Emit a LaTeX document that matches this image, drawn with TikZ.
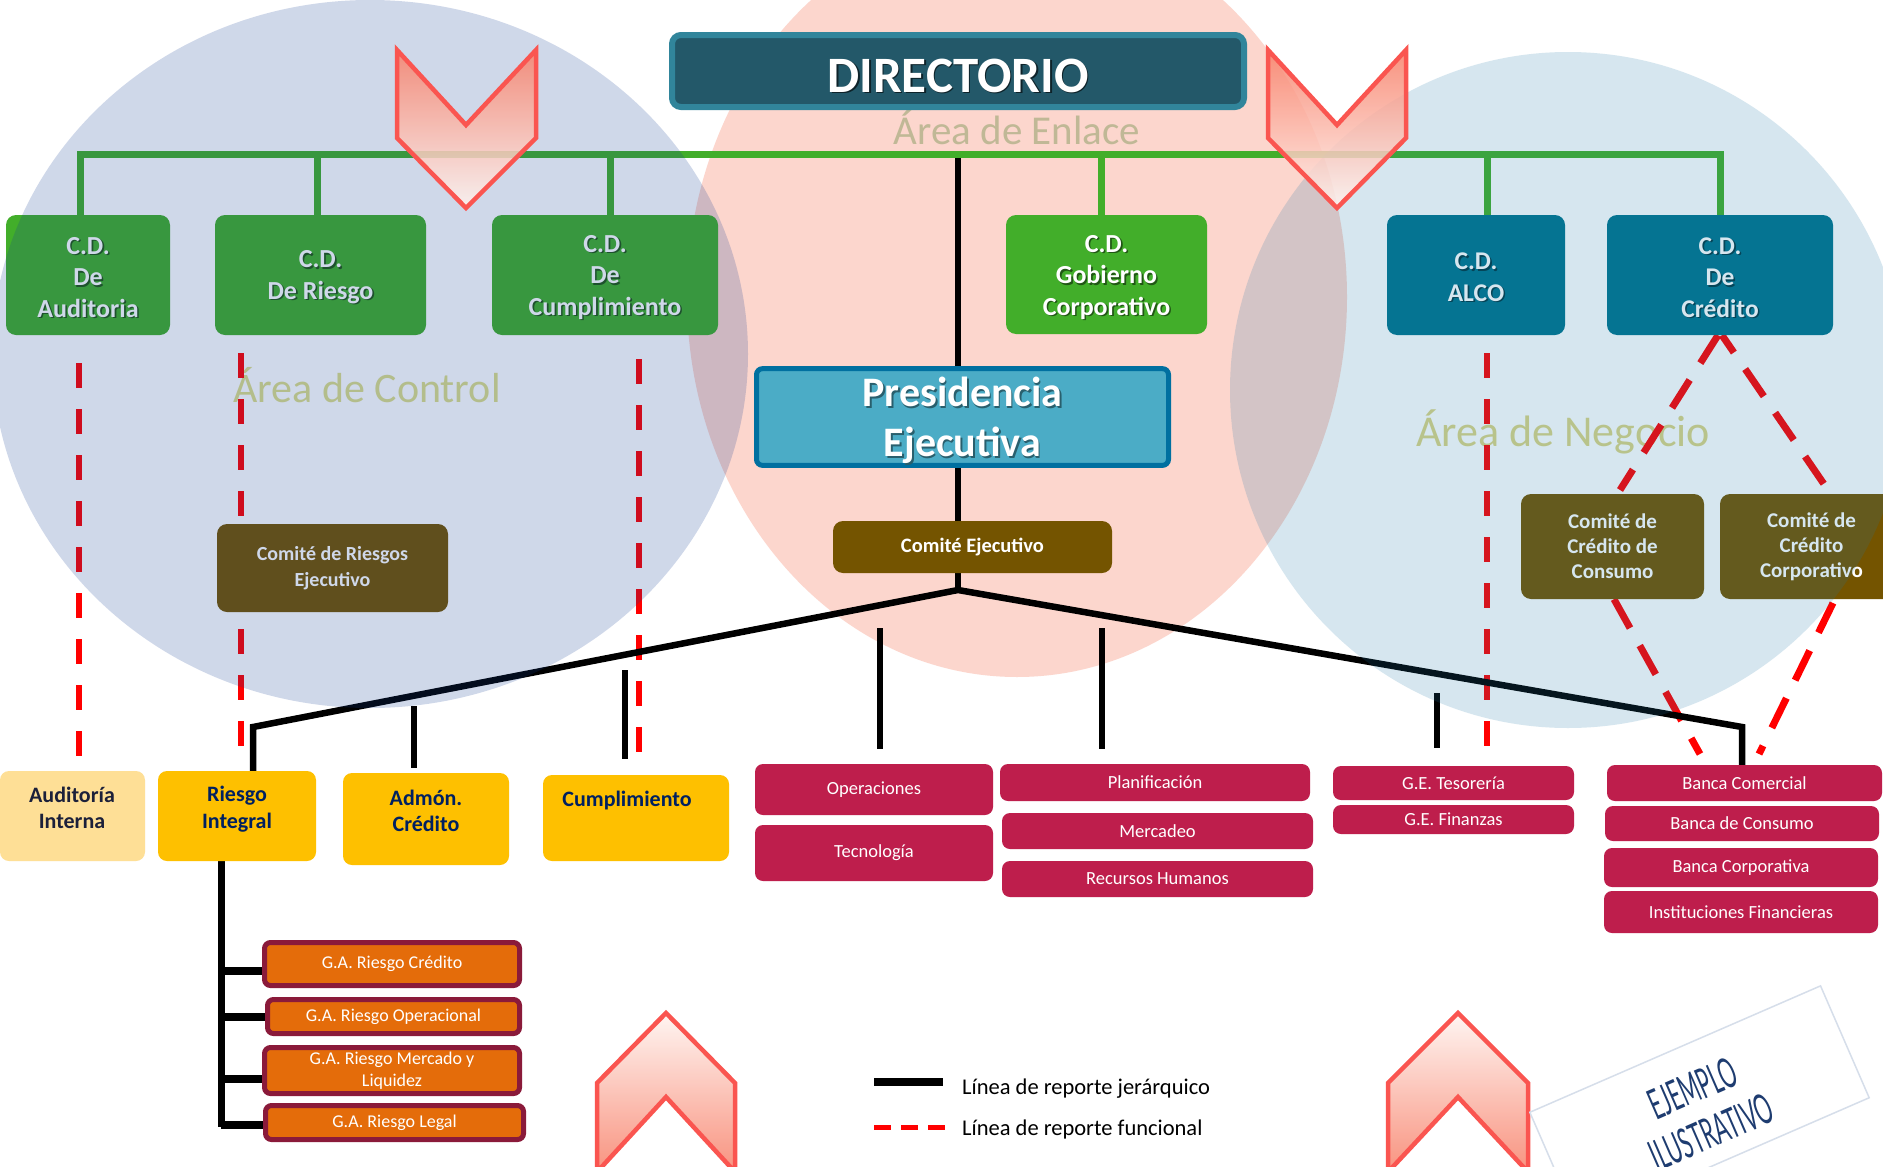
\documentclass[tikz,border=0pt]{standalone}
\usepackage{fontspec}
\usepackage{graphicx}
\setmainfont{Carlito}
\newfontfamily\stampfont{Lato}
\usetikzlibrary{calc}
\pgfdeclarelayer{back}
\pgfdeclarelayer{lines}
\pgfdeclarelayer{tint}
\pgfdeclarelayer{front}
\pgfsetlayers{back,lines,main,tint,front}

\definecolor{pinkc}{RGB}{252,214,205}
\definecolor{leftc}{RGB}{18,60,147}
\definecolor{rightc}{RGB}{29,119,167}
\definecolor{cdgreen}{RGB}{66,174,42}
\definecolor{cdteal}{RGB}{0,116,142}
\definecolor{dirfill}{RGB}{35,88,105}
\definecolor{dirline}{RGB}{49,133,155}
\definecolor{presfill}{RGB}{75,172,198}
\definecolor{presline}{RGB}{0,112,160}
\definecolor{brownc}{RGB}{116,84,0}
\definecolor{goldc}{RGB}{254,192,0}
\definecolor{paleg}{RGB}{254,223,150}
\definecolor{navyc}{RGB}{0,32,96}
\definecolor{inkc}{RGB}{28,32,58}
\definecolor{magc}{RGB}{190,30,76}
\definecolor{orangec}{RGB}{228,108,10}
\definecolor{maroonc}{RGB}{138,26,58}
\definecolor{chevline}{RGB}{250,85,80}
\definecolor{chevtop}{RGB}{248,128,105}
\definecolor{chevlow}{RGB}{255,244,240}
\definecolor{stampline}{RGB}{214,222,234}
\definecolor{stampc}{RGB}{30,60,112}
\definecolor{enlacec}{RGB}{192,184,150}
\definecolor{controlc}{RGB}{220,222,138}
\definecolor{negocioc}{RGB}{219,212,134}
\colorlet{shadowc}{black}

% bold white text with a small dark drop shadow
\newcommand\shd[1]{\leavevmode\rlap{\hspace{1.6pt}\raisebox{-1.6pt}{\textcolor{shadowc}{#1}}}#1}
% invisible strut that lowers a text block inside its box
\newcommand\lift[1]{\rule{0pt}{#1}}

\tikzset{
  every node/.style={inner sep=0pt},
  cdbox/.style={rounded corners=10pt, fill=cdgreen, text=white, align=center,
    font=\fontsize{26}{31.5}\selectfont\bfseries\colorlet{shadowc}{black!50!cdgreen}},
  tealbox/.style={cdbox, fill=cdteal,
    font=\fontsize{25.5}{31.5}\selectfont\bfseries\colorlet{shadowc}{black!50!cdteal}},
  dirbox/.style={rounded corners=9pt, fill=dirfill, draw=dirline, line width=6pt, text=white,
    font=\fontsize{51}{55}\selectfont\bfseries\colorlet{shadowc}{black!60!dirfill}},
  presbox/.style={rounded corners=6pt, fill=presfill, draw=presline, line width=5pt, text=white, align=center,
    font=\fontsize{42}{50}\selectfont\bfseries\colorlet{shadowc}{black!45!presfill}},
  brownbox/.style={rounded corners=10pt, fill=brownc, text=white, align=center},
  yellowbox/.style={rounded corners=9pt, fill=goldc},
  ytext/.style={text=navyc, align=center, font=\fontsize{22}{26.5}\selectfont\bfseries},
  redbox/.style={rounded corners=8pt, fill=magc, text=white, font=\fontsize{18.5}{20}\selectfont},
  gabox/.style={rounded corners=6pt, fill=orangec, draw=maroonc, line width=5pt, text=white, align=center,
    font=\fontsize{18}{22}\selectfont},
  bus/.style={draw=cdgreen, line width=7pt},
  rep/.style={draw=black, line width=6.5pt, line join=miter},
  fun/.style={draw=red, line width=6pt, dash pattern=on 25pt off 21pt},
  fundiag/.style={draw=red, line width=7pt, dash pattern=on 33pt off 20pt},
  arealbl/.style={anchor=base, font=\fontsize{42}{42}\selectfont},
  chevshape/.style={draw=chevline, line width=4.5pt, line join=miter, fill opacity=0.85},
}

\begin{document}
\begin{tikzpicture}[x=1pt,y=-1pt]
\useasboundingbox (0,0) rectangle (1883,1167);
\clip (0,0) rectangle (1883,1167);

\begin{pgfonlayer}{back}
  \fill[white] (0,0) rectangle (1883,1167);
  \fill[pinkc] (1017,297) ellipse [x radius=330pt, y radius=380pt];
\end{pgfonlayer}

% ---------- board and its committees ----------
\node[dirbox, minimum width=572pt, minimum height=72pt] (dir) at (958,71) {\lift{44pt}\shd{DIRECTORIO}};

\node[cdbox, minimum width=164pt, minimum height=120pt] (cda) at (88,275) {\lift{23pt}\shd{C.D.}\\\shd{De}\\\shd{Auditoria}};
\node[cdbox, minimum width=211pt, minimum height=120pt] (cdr) at (320.5,275) {\lift{23pt}\shd{C.D.}\\\shd{De Riesgo}};
\node[cdbox, minimum width=226pt, minimum height=120pt] (cdc) at (605,275) {\lift{23pt}\shd{C.D.}\\\shd{De}\\\shd{Cumplimiento}};
\node[cdbox, minimum width=201pt, minimum height=119pt] (cdg) at (1106.5,274.5) {\lift{24pt}\shd{C.D.}\\\shd{Gobierno}\\\shd{Corporativo}};
\node[tealbox, minimum width=178pt, minimum height=120pt] (alco) at (1476,275) {\lift{23pt}\shd{C.D.}\\\shd{ALCO}};
\node[tealbox, minimum width=226pt, minimum height=120pt] (cred) at (1720,275) {\lift{23pt}\shd{C.D.}\\\shd{De}\\\shd{Crédito}};

% ---------- executive level ----------
\node[presbox, minimum width=412pt, minimum height=83pt] (pres) at (962.5,417) {\lift{38pt}\shd{Presidencia}\\\shd{Ejecutiva}};
\node[brownbox, minimum width=279pt, minimum height=52pt, font=\fontsize{20.5}{24}\selectfont\bfseries] (ce) at (972.5,547) {Comité Ejecutivo};
\node[brownbox, minimum width=231pt, minimum height=88pt, font=\fontsize{20}{26}\selectfont\bfseries] (cre) at (332.5,568) {Comité de Riesgos\\Ejecutivo};
\node[brownbox, minimum width=183pt, minimum height=105pt, font=\fontsize{21}{25}\selectfont\bfseries] (ccc) at (1612.5,546.5) {Comité de\\Crédito de\\Consumo};
\node[brownbox, minimum width=183pt, minimum height=105pt, font=\fontsize{21}{25}\selectfont\bfseries] (ccp) at (1811.5,546.5) {Comité de\\Crédito\\Corporativo};

% ---------- control units ----------
\node[yellowbox, fill=paleg, minimum width=145pt, minimum height=90pt] (ai) at (72.5,816) {};
\node[ytext, text=inkc] (tai) at (72,808) {Auditoría\\Interna};
\node[yellowbox, minimum width=158pt, minimum height=90pt] (ri) at (237,816) {};
\node[ytext] (tri) at (237,809) {Riesgo\\Integral};
\node[yellowbox, minimum width=166pt, minimum height=92pt] (adm) at (426,819) {};
\node[ytext] (tadm) at (426,811) {Admón.\\Crédito};
\node[yellowbox, minimum width=186pt, minimum height=86pt] (cum) at (636,818) {};
\node[ytext] (tcum) at (627,801) {Cumplimiento};

% ---------- business and support units ----------
\node[redbox, minimum width=238pt, minimum height=51pt] (op) at (874,789.5) {Operaciones};
\node[redbox, minimum width=238pt, minimum height=56pt] (tec) at (874,853) {Tecnología};
\node[redbox, minimum width=310pt, minimum height=37pt] (plan) at (1155,782.5) {Planificación};
\node[redbox, minimum width=311pt, minimum height=36pt] (merc) at (1157.5,831) {Mercadeo};
\node[redbox, minimum width=311pt, minimum height=36pt] (rh) at (1157.5,879) {Recursos Humanos};
\node[redbox, minimum width=241pt, minimum height=34pt] (tes) at (1453.5,783) {G.E. Tesorería};
\node[redbox, minimum width=241pt, minimum height=29pt] (fin) at (1453.5,819.5) {G.E. Finanzas};
\node[redbox, minimum width=275pt, minimum height=36pt] (bcom) at (1744.5,783) {Banca Comercial};
\node[redbox, minimum width=274pt, minimum height=35pt] (bcon) at (1742,823.5) {Banca de Consumo};
\node[redbox, minimum width=274pt, minimum height=39pt] (bcorp) at (1741,867.5) {Banca Corporativa};
\node[redbox, minimum width=274pt, minimum height=42pt] (inst) at (1741,912) {Instituciones Financieras};

% ---------- risk management units ----------
\node[gabox, minimum width=255pt, minimum height=43pt] (gac) at (392,964) {G.A. Riesgo Crédito};
\node[gabox, minimum width=252pt, minimum height=34pt] (gao) at (393.5,1016.5) {G.A. Riesgo Operacional};
\node[gabox, minimum width=255pt, minimum height=46pt] (gam) at (392,1070.5) {G.A. Riesgo Mercado y\\Liquidez};
\node[gabox, minimum width=258pt, minimum height=34pt] (gal) at (394.5,1122.5) {G.A. Riesgo Legal};

% ---------- area names and connectors (under the boxes) ----------
\begin{pgfonlayer}{lines}
  \node[arealbl, text=enlacec, font=\fontsize{41}{41}\selectfont] (lenl) at (1017,144) {Área de Enlace};
  \node[arealbl, text=controlc] (lctl) at (367,402) {Área de Control};
  \node[arealbl, text=negocioc, font=\fontsize{44}{44}\selectfont] (lneg) at (1563,446) {Área de Negocio};

  % functional reporting
  \coordinate (fa) at (79,363);   \draw[fun] (fa) -- ([yshift=9pt]fa |- ai.north);
  \coordinate (fr) at (241,353);  \draw[fun] (fr) -- ([yshift=18pt]fr |- ri.north);
  \coordinate (fcm) at (639,359); \draw[fun] (fcm) -- ([yshift=17pt]fcm |- cum.north);
  \coordinate (fal) at (1487,353); \draw[fun] (fal) -- ([yshift=10pt]fal |- tes.north);
  \coordinate (fc1) at (1620,490); \draw[fundiag] ([xshift=-2pt]cred.south) -- (fc1);
  \coordinate (fc2) at (1828,490); \draw[fundiag, dash phase=12pt] ([xshift=2pt]cred.south) -- (fc2);
  \coordinate (fb1) at (1700,754); \draw[fundiag] ([xshift=1.5pt]ccc.south) -- (fb1);
  \coordinate (fd)  at (1833,603); \coordinate (fb2) at (1759,754); \draw[fundiag] (fd) -- (fb2);

  % hierarchical reporting
  \coordinate (jtop) at (958,154);
  \coordinate (jn) at (958,590);
  \draw[rep] (jtop) -- (jn);
  \coordinate (lc) at (253,727);
  \coordinate (rc) at (1742,727);
  \draw[rep] (lc |- ri.north) -- (lc) -- (jn) -- (rc) -- (rc |- bcom.north);
  \coordinate (sa) at (414,706);  \draw[rep] (sa) -- ([yshift=5pt]sa |- adm.north);
  \coordinate (sc) at (625,670);  \draw[rep] (sc) -- ([yshift=16pt]sc |- cum.north);
  \coordinate (so) at (880,628);  \draw[rep] (so) -- ([yshift=15pt]so |- op.north);
  \coordinate (sp) at (1102,628); \draw[rep] (sp) -- ([yshift=15pt]sp |- plan.north);
  \coordinate (st) at (1437,693); \draw[rep] (st) -- ([yshift=18pt]st |- tes.north);

  % risk units under Riesgo Integral
  \coordinate (gv) at (221,1127);
  \draw[rep, line width=7pt] (gv |- ri.south) -- (gv);
  \coordinate (g1) at (221,971);  \draw[rep, line width=8pt] (g1) -- (g1 -| gac.west);
  \coordinate (g2) at (221,1017); \draw[rep, line width=8pt] (g2) -- (g2 -| gao.west);
  \coordinate (g3) at (221,1079); \draw[rep, line width=8pt] (g3) -- (g3 -| gam.west);
  \coordinate (g4) at (221,1125); \draw[rep, line width=8pt] (g4) -- (g4 -| gal.west);

  % board committees bus
  \coordinate (b1) at (80,154);
  \coordinate (b2) at (317,154);
  \coordinate (b3) at (610,154);
  \coordinate (b4) at (1101,154);
  \coordinate (b5) at (1487,154);
  \coordinate (b6) at (1720,154);
  \draw[bus] (b1 |- cda.north) -- (b1) -- (b6) -- (b6 |- cred.north);
  \draw[bus] (b2) -- (b2 |- cdr.north);
  \draw[bus] (b3) -- (b3 |- cdc.north);
  \draw[bus] (b4) -- (b4 |- cdg.north);
  \draw[bus] (b5) -- (b5 |- alco.north);
\end{pgfonlayer}

% ---------- translucent area discs ----------
\begin{pgfonlayer}{tint}
  \fill[leftc, opacity=0.2] (370,354) ellipse [x radius=378pt, y radius=354pt];
  \fill[rightc, opacity=0.18] (1568,390) circle [radius=338pt];
\end{pgfonlayer}

\begin{pgfonlayer}{front}
  % chevrons
  \path[chevshape, top color=chevtop, bottom color=chevlow]
    (397,50) -- (466,125) -- (536,50) -- (536,138) -- (466,208) -- (397,138) -- cycle;
  \path[chevshape, top color=chevtop, bottom color=chevlow]
    (1268,50) -- (1337,125) -- (1406,50) -- (1406,138) -- (1337,208) -- (1268,138) -- cycle;
  \path[chevshape, top color=chevlow, bottom color=chevtop]
    (597,1172) -- (597,1083) -- (666,1013) -- (735,1083) -- (735,1172) -- (666,1097) -- cycle;
  \path[chevshape, top color=chevlow, bottom color=chevtop]
    (1388,1172) -- (1388,1083) -- (1458,1013) -- (1528,1083) -- (1528,1172) -- (1458,1097) -- cycle;

  % legend
  \node[anchor=west, font=\fontsize{22.5}{24}\selectfont] (lg1) at (962,1089) {Línea de reporte jerárquico};
  \node[anchor=west, font=\fontsize{22.5}{24}\selectfont] (lg2) at (962,1129) {Línea de reporte funcional};
  \draw[black, line width=8pt] ([xshift=-88pt,yshift=7pt]lg1.west) -- ([xshift=-19pt,yshift=7pt]lg1.west);
  \draw[red, line width=5pt, dash pattern=on 17pt off 10pt] ([xshift=-88pt,yshift=2pt]lg2.west) -- ([xshift=-17pt,yshift=2pt]lg2.west);

  % stamp
  \node[draw=stampline, line width=1.5pt, fill=white, minimum width=317pt, minimum height=122pt, rotate=23.5] (stamp) at (1699.5,1105) {};
  \node[rotate=23.5, text=stampc, align=center, font=\stampfont\fontsize{42}{48}\selectfont] (stamptxt) at (1702,1110)
    {\scalebox{0.5}[1]{EJEMPLO}\\\scalebox{0.5}[1]{ILUSTRATIVO}};
\end{pgfonlayer}
\end{tikzpicture}
\end{document}
